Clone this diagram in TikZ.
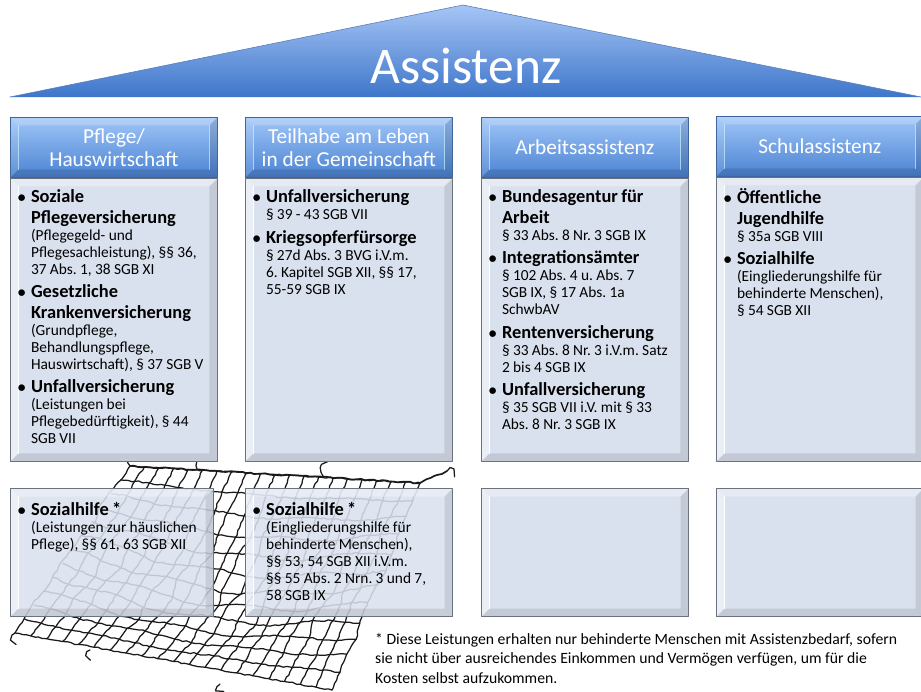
\documentclass[tikz,border=0pt]{standalone}
\usepackage{fontspec}
\setmainfont{Carlito}
\usetikzlibrary{calc,positioning,decorations.pathmorphing}
\definecolor{rooftop}{HTML}{A6C5F5}
\definecolor{roofbot}{HTML}{3E76CA}
\definecolor{roofline}{HTML}{5580BE}
\definecolor{headtop}{HTML}{A0C6F8}
\definecolor{headbot}{HTML}{4A82D2}
\definecolor{headline}{HTML}{3F659D}
\definecolor{glow}{HTML}{C8F2FF}
\definecolor{bodyfill}{HTML}{DAE1EE}
\definecolor{bodyline}{HTML}{6B717E}
\definecolor{ropecol}{HTML}{1A1A1A}
\setlength\parindent{0pt}
\frenchspacing
\newcommand\punkt[1]{{\fontsize{18.4}{20.5}\selectfont\bfseries\noindent\llap{{\fontsize{15.5}{15}\selectfont •}\hspace{5.5pt}}#1\par}}
\newcommand\detail[1]{{\fontsize{15.4}{17}\selectfont\noindent #1\par}\vspace{3pt}}
\newcommand\boxcorners{%
  \path (path picture bounding box.north west) coordinate (nw)
        (path picture bounding box.north east) coordinate (ne)
        (path picture bounding box.south west) coordinate (sw)
        (path picture bounding box.south east) coordinate (se);}
\newcommand\bevelstrips[3]{%
  \fill[white, fill opacity=#1] (nw) -- (sw) -- ($(sw)+(8pt,8pt)$) -- ($(nw)+(8pt,-8pt)$) -- cycle;
  \fill[white, fill opacity=#2] (nw) -- (ne) -- ($(ne)+(-8pt,-8pt)$) -- ($(nw)+(8pt,-8pt)$) -- cycle;
  \fill[black, fill opacity=#3] (ne) -- (se) -- ($(se)+(-8pt,8pt)$) -- ($(ne)+(-8pt,-8pt)$) -- cycle;
  \fill[black, fill opacity=#3] (sw) -- (se) -- ($(se)+(-8pt,8pt)$) -- ($(sw)+(8pt,8pt)$) -- cycle;}
\tikzset{
    headbox/.style={draw=headline, line width=0.8pt, minimum width=207pt, minimum height=60pt, inner sep=0pt,
        text=white, align=center, font=\fontsize{21.3}{23}\selectfont,
        path picture={\boxcorners
            \shade[top color=headtop, bottom color=headbot] (nw) rectangle (se);
            \bevelstrips{0.12}{0.2}{0.12}
            \draw[glow, opacity=0.7, line width=1pt] ($(nw)+(8pt,-8pt)$) -- ($(sw)+(8pt,8pt)$);
            \draw[glow, opacity=0.7, line width=1pt] ($(ne)+(-8pt,-8pt)$) -- ($(se)+(-8pt,8pt)$);}},
    bodybox/.style={draw=bodyline, line width=1.2pt, fill=bodyfill, minimum width=207pt, inner sep=0pt,
        path picture={\boxcorners
            \bevelstrips{0.45}{0.3}{0.1}
            \draw[white, line width=1pt] ($(nw)+(8pt,-8pt)$) -- ($(sw)+(8pt,8pt)$);}},
    netbox/.style={bodybox, fill opacity=0.87},
    listtext/.style={inner sep=0pt, text width=205pt, align=left},
    rope/.style={draw=ropecol, line width=1.25pt, decorate,
        decoration={random steps, segment length=4pt, amplitude=0.8pt}}
}
\pgfmathsetseed{11}
\begin{document}
\begin{tikzpicture}[x=1pt, y=-1pt, line cap=round, line join=round,
    declare function={jx(\i,\j)=3*sin(131*\i+71*\j*\j); jy(\i,\j)=3*cos(53*\i+89*\j);}]
\useasboundingbox (0,0) rectangle (921,691);

\shade[top color=rooftop, bottom color=roofbot] (10,97) -- (463,5) -- (921,97) -- cycle;
\draw[roofline, line width=0.6pt] (10,97) -- (463,5) -- (921,97);
\node[text=white, font=\fontsize{51.5}{51.5}\selectfont] (titel) at (466,66) {Assistenz};

\coordinate (TL) at (130,466);
\coordinate (TR) at (420,483);
\coordinate (BR) at (332,690);
\coordinate (BL) at (15,633);
\foreach \zeile [evaluate=\zeile as \rowv using \zeile/12] in {0,...,12}
  \draw[rope] ($(TL)!\rowv!(BL)$) \foreach \spalte [evaluate=\spalte as \colu using \spalte/20] in {1,...,20}
    { -- ($($(TL)!\rowv!(BL)$)!\colu!($(TR)!\rowv!(BR)$)+({jx(\spalte,\zeile)*sin(180*\rowv)},{22*sin(180*\colu)*sin(180*\rowv)+jy(\spalte,\zeile)*sin(180*\rowv)})$) };
\foreach \spalte [evaluate=\spalte as \colu using \spalte/20] in {0,...,20}
  \draw[rope] ($(TL)!\colu!(TR)$) \foreach \zeile [evaluate=\zeile as \rowv using \zeile/12] in {1,...,12}
    { -- ($($(TL)!\rowv!(BL)$)!\colu!($(TR)!\rowv!(BR)$)+({jx(\spalte,\zeile)*sin(180*\rowv)},{22*sin(180*\colu)*sin(180*\rowv)+jy(\spalte,\zeile)*sin(180*\rowv)})$) };
\draw[rope, line width=1.7pt] (TL) -- (TR) -- (447,471);
\draw[rope] (TL) .. controls (124,458) and (128,452) .. (134,457);
\draw[rope] (197,469) .. controls (194,462) and (200,458) .. (202,463);
\draw[rope] (323,476) .. controls (318,468) and (324,461) .. (328,466);
\draw[rope] (447,471) .. controls (453,466) and (456,473) .. (451,476);
\draw[rope] (BL) .. controls (10,636) and (12,643) .. (18,641);
\draw[rope] (90,650) .. controls (84,652) and (86,659) .. (92,657);
\draw[rope] (220,684) .. controls (214,688) and (218,691) .. (224,690);

\node[headbox, anchor=north west] (pflegekopf) at (10,117) {Pflege/\\Hauswirtschaft};
\node[headbox, anchor=north west] (teilhabekopf) at (245,117) {Teilhabe am Leben\\in der Gemeinschaft};
\node[headbox, anchor=north west] (arbeitkopf) at (481,117) {Arbeitsassistenz};
\node[headbox, anchor=north west] (schulkopf) at (716,116) {Schulassistenz};

\node[bodybox, minimum height=283pt, below=0pt of pflegekopf] (pflegebody) {};
\node[bodybox, minimum height=283pt, below=0pt of teilhabekopf] (teilhabebody) {};
\node[bodybox, minimum height=283pt, below=0pt of arbeitkopf] (arbeitbody) {};
\node[bodybox, minimum height=284pt, below=0pt of schulkopf] (schulbody) {};

\node[netbox, minimum width=203pt, minimum height=128pt, anchor=north west] (pflegenetz) at (10,488) {};
\node[netbox, minimum height=128pt, anchor=north west] (teilhabenetz) at (245,488) {};
\node[bodybox, minimum height=128pt, anchor=north west] (arbeitnetz) at (481,488) {};
\node[bodybox, minimum height=128pt, anchor=north west] (schulnetz) at (716,488) {};

\node[listtext, below right=12pt and 21pt of pflegebody.north west] (pflegeliste) {
  \punkt{Soziale\\Pflegeversicherung}
  \detail{(Pflegegeld- und\\Pflegesachleistung), §§ 36,\\37 Abs. 1, 38 SGB XI}
  \punkt{Gesetzliche\\Krankenversicherung}
  \detail{(Grundpflege,\\Behandlungspflege,\\Hauswirtschaft), § 37 SGB V}
  \punkt{Unfallversicherung}
  \detail{(Leistungen bei\\Pflegebedürftigkeit), § 44\\SGB VII}};
\node[listtext, below right=12pt and 21pt of teilhabebody.north west] (teilhabeliste) {
  \punkt{Unfallversicherung}
  \detail{§ 39 - 43 SGB VII}
  \punkt{Kriegsopferfürsorge}
  \detail{§ 27d Abs. 3 BVG i.V.m.\\6. Kapitel SGB XII, §§ 17,\\55-59 SGB IX}};
\node[listtext, below right=12pt and 21pt of arbeitbody.north west] (arbeitliste) {
  \punkt{Bundesagentur für\\Arbeit}
  \detail{§ 33 Abs. 8 Nr. 3 SGB IX}
  \punkt{Integrationsämter}
  \detail{§ 102 Abs. 4 u. Abs. 7\\SGB IX, § 17 Abs. 1a\\SchwbAV}
  \punkt{Rentenversicherung}
  \detail{§ 33 Abs. 8 Nr. 3 i.V.m. Satz\\2 bis 4 SGB IX}
  \punkt{Unfallversicherung}
  \detail{§ 35 SGB VII i.V. mit § 33\\Abs. 8 Nr. 3 SGB IX}};
\node[listtext, below right=12pt and 21pt of schulbody.north west] (schulliste) {
  \punkt{Öffentliche\\Jugendhilfe}
  \detail{§ 35a SGB VIII}
  \punkt{Sozialhilfe}
  \detail{(Eingliederungshilfe für\\behinderte Menschen),\\§ 54 SGB XII}};
\node[listtext, below right=14pt and 21pt of pflegenetz.north west] (pflegenetzliste) {
  \punkt{Sozialhilfe *}
  \detail{(Leistungen zur häuslichen\\Pflege), §§ 61, 63 SGB XII}};
\node[listtext, below right=14pt and 21pt of teilhabenetz.north west] (teilhabenetzliste) {
  \punkt{Sozialhilfe *}
  \detail{(Eingliederungshilfe für\\behinderte Menschen),\\§§ 53, 54 SGB XII i.V.m.\\§§ 55 Abs. 2 Nrn. 3 und 7,\\58 SGB IX}};

\node[anchor=north west, align=left, inner sep=0pt, font=\fontsize{15.7}{19.5}\selectfont] (fussnote) at (375,633)
  {* Diese Leistungen erhalten nur behinderte Menschen mit Assistenzbedarf, sofern\\sie nicht über ausreichendes Einkommen und Vermögen verfügen, um für die\\Kosten selbst aufzukommen.};
\end{tikzpicture}
\end{document}
